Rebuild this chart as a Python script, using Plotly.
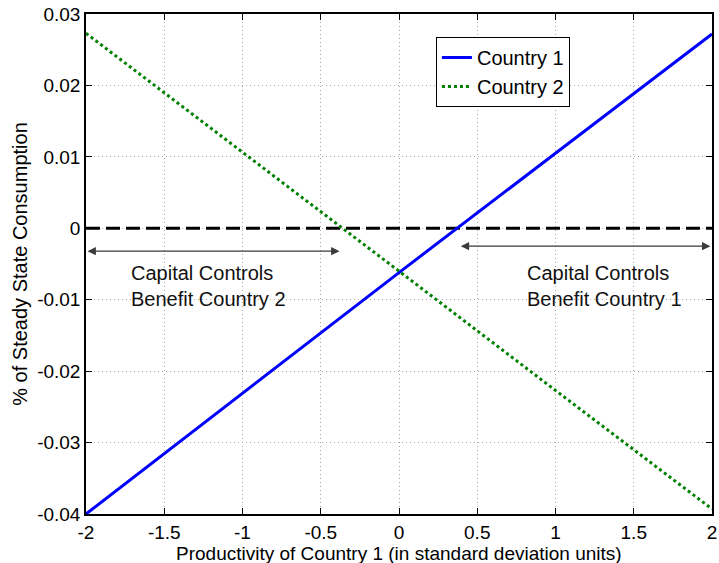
import plotly.graph_objects as go

# Data
x_vals = [-2, -1, 0, 1, 2]
country1 = [-0.0400, -0.0231, -0.0062, 0.0105, 0.0272]
country2 = [0.0273, 0.0107, -0.0060, -0.0227, -0.0393]
zero_x = [-2, 2]
zero_y = [0, 0]

x_ticks = [-2, -1.5, -1, -0.5, 0, 0.5, 1, 1.5, 2]
x_tick_text = ["-2", "-1.5", "-1", "-0.5", "0", "0.5", "1", "1.5", "2"]
y_ticks = [-0.04, -0.03, -0.02, -0.01, 0, 0.01, 0.02, 0.03]
y_tick_text = ["-0.04", "-0.03", "-0.02", "-0.01", "0", "0.01", "0.02", "0.03"]

# Arrow ranges (x start, x end, y level)
arrow2 = (-2.0, -0.38, -0.0032)
arrow1 = (0.385, 1.99, -0.0025)
label2 = "Capital Controls<br>Benefit Country 2"
label1 = "Capital Controls<br>Benefit Country 1"
x_title = "Productivity of Country 1 (in standard deviation units)"
y_title = "% of Steady State Consumption"

FONT = "Liberation Sans, Arial, Helvetica, sans-serif"
FS = 20

fig = go.Figure()
fig.add_trace(go.Scatter(x=zero_x, y=zero_y, mode="lines", showlegend=False,
                         line=dict(color="black", width=3, dash="14px,6px"),
                         hoverinfo="skip"))
fig.add_trace(go.Scatter(x=x_vals, y=country1, mode="lines", name="Country 1",
                         line=dict(color="#0000ff", width=3)))
fig.add_trace(go.Scatter(x=x_vals, y=country2, mode="lines", name="Country 2",
                         line=dict(color="#008000", width=3, dash="3px,3px")))

for (xs, xe, yl) in (arrow2, arrow1):
    fig.add_annotation(x=xe, y=yl, ax=xs, ay=yl, xref="x", yref="y",
                       axref="x", ayref="y", text="", showarrow=True,
                       arrowhead=2, arrowside="end+start", arrowsize=1.4,
                       arrowwidth=1.2, arrowcolor="#3a3a3a")

fig.add_annotation(x=-1.22, y=-0.0081, xref="x", yref="y", text=label2,
                   showarrow=False, align="left",
                   font=dict(family=FONT, size=FS, color="#111111"))
fig.add_annotation(x=1.31, y=-0.0081, xref="x", yref="y", text=label1,
                   showarrow=False, align="left",
                   font=dict(family=FONT, size=FS, color="#111111"))

# x-axis title placed just under the tick labels
fig.add_annotation(x=0.5, y=0, xref="paper", yref="paper", text=x_title,
                   showarrow=False, xanchor="center", yanchor="middle",
                   yshift=-39, font=dict(family=FONT, size=19, color="black"))

axis_common = dict(showline=True, linecolor="black", linewidth=1.5,
                   mirror="ticks", ticks="inside", ticklen=6, tickwidth=1,
                   tickcolor="black", showgrid=True, gridcolor="#a8a8a8",
                   gridwidth=1, griddash="1px,3px", zeroline=False,
                   ticklabeloverflow="allow", automargin=False,
                   tickfont=dict(family=FONT, size=19, color="black"))

fig.update_xaxes(range=[-2, 2], tickvals=x_ticks, ticktext=x_tick_text,
                 **axis_common)
fig.update_yaxes(range=[-0.04, 0.03], tickvals=y_ticks, ticktext=y_tick_text,
                 title=dict(text=y_title,
                            font=dict(family=FONT, size=FS, color="black"),
                            standoff=4),
                 **axis_common)

fig.update_layout(
    width=719, height=563,
    margin=dict(l=86, r=7, t=14, b=49, autoexpand=False),
    paper_bgcolor="white", plot_bgcolor="white",
    font=dict(family=FONT, size=FS, color="black"),
    legend=dict(x=0.559, y=0.954, xanchor="left", yanchor="top",
                bgcolor="white", bordercolor="black", borderwidth=1,
                font=dict(family=FONT, size=FS, color="black"),
                tracegroupgap=0),
)

fig.write_html(
    "out.html",
    config={"displayModeBar": False},
    post_script="document.body.style.margin='0';document.body.style.overflow='hidden';",
)
